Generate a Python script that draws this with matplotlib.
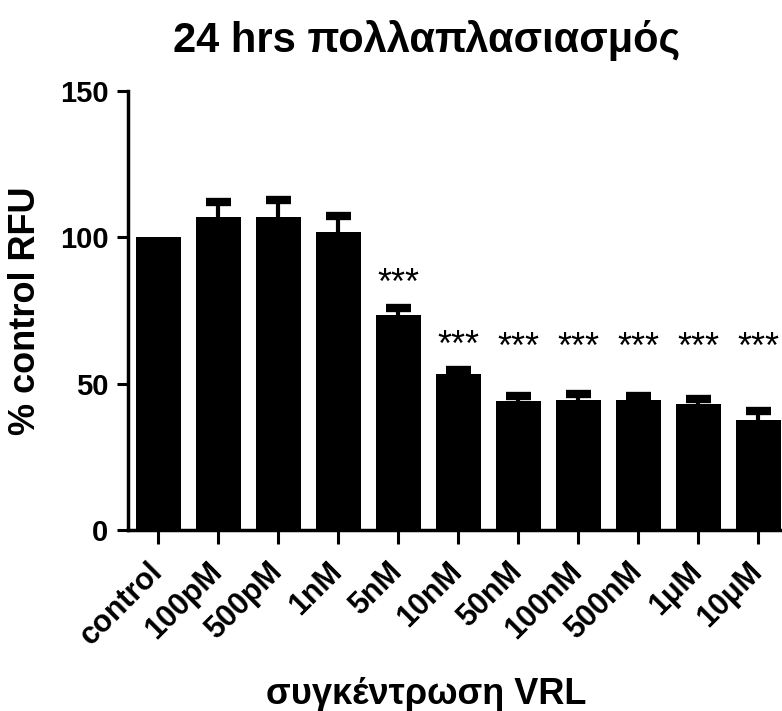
import numpy as np
import matplotlib
matplotlib.use("Agg")
import matplotlib.pyplot as plt
from matplotlib.transforms import ScaledTranslation

plt.rcParams['font.family'] = ['Liberation Sans', 'DejaVu Sans']
plt.rcParams['font.weight'] = 'bold'
plt.rcParams['axes.labelweight'] = 'bold'

# data
conc = ['control', '100pM', '500pM', '1nM', '5nM', '10nM',
        '50nM', '100nM', '500nM', '1μM', '10μM']
mean = [100.0, 107.0, 106.8, 101.8, 73.3, 53.4, 44.2, 44.5, 44.4, 43.2, 37.7]
sem = [0.0, 5.2, 5.9, 5.4, 2.7, 1.4, 1.5, 2.0, 1.5, 1.7, 3.1]
signif = ['', '', '', '', '***', '***', '***', '***', '***', '***', '***']

fig = plt.figure(figsize=(7.82, 7.11), dpi=100)
ax = fig.add_axes([0.1637, 0.2546, 0.8363, 0.6174])

x = np.arange(len(conc))
mean = np.array(mean)
top = mean + np.array(sem)

# upper-only error bars, drawn behind the bars
has_err = np.array(sem) > 0
ax.vlines(x[has_err], mean[has_err] - 3, top[has_err], color='black', lw=3, zorder=1)
ax.plot(x[has_err], top[has_err], ls='none', marker='_', ms=18, mew=6,
        color='black', zorder=1)
ax.bar(x, mean, width=0.75, color='black', zorder=2)

for i, s in enumerate(signif):
    if s:
        ax.text(x[i], max(top[i] + 8, 62), s, ha='center', va='center',
                fontsize=26, fontweight='normal')

ax.set_xlim(-0.5, 10.4)
ax.set_ylim(0, 150)
ax.set_yticks([0, 50, 100, 150])
ax.set_xticks(x)
ax.set_xticklabels(conc, rotation=45, ha='right', va='center',
                   rotation_mode='anchor', fontsize=22)
shift = ScaledTranslation(4 / 72, 0, fig.dpi_scale_trans)
for lab in ax.get_xticklabels():
    lab.set_transform(lab.get_transform() + shift)
ax.tick_params(axis='y', labelsize=21, width=2.2, length=8, pad=6)
ax.tick_params(axis='x', width=2.2, length=10, pad=17)
ax.spines['top'].set_visible(False)
ax.spines['right'].set_visible(False)
ax.spines['left'].set_linewidth(2.5)
ax.spines['bottom'].set_linewidth(2.5)

ax.set_ylabel('% control RFU', fontsize=26, labelpad=12)
ax.set_xlabel('συγκέντρωση VRL', fontsize=26)
ax.xaxis.set_label_coords(0.456, -0.335)
fig.text(0.546, 0.943, '24 hrs πολλαπλασιασμός', ha='center', va='center',
         fontsize=30, fontweight='bold')

fig.savefig('out.png', dpi=100)
